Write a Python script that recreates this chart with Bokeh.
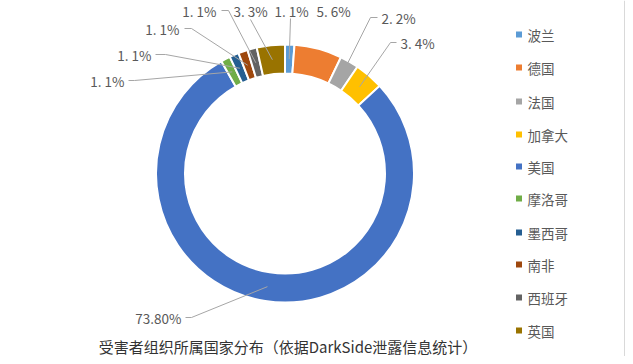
import math
from bokeh.plotting import figure
from bokeh.models import ColumnDataSource, Range1d, Span
from bokeh.core.properties import value
from bokeh.embed import file_html
from bokeh.resources import INLINE

# ---- data ----
countries = ["波兰", "德国", "法国", "加拿大", "美国", "摩洛哥", "墨西哥", "南非", "西班牙", "英国"]
shares = [1.1, 5.6, 2.2, 3.4, 73.8, 1.1, 1.1, 1.1, 1.1, 3.3]
share_labels = ["1. 1%", "5. 6%", "2. 2%", "3. 4%", "73.80%", "1. 1%", "1. 1%", "1. 1%", "1. 1%", "3. 3%"]
colors = ["#5B9BD5", "#ED7D31", "#A5A5A5", "#FFC000", "#4472C4",
          "#70AD47", "#255E91", "#9E480E", "#636363", "#997300"]
title_text = "受害者组织所属国家分布（依据DarkSide泄露信息统计）"

# ---- layout (picture pixel coordinates) ----
W, H = 625, 356
def Y(y):
    return H - y

cx, cy = 284.5, Y(173)
r_out, r_in = 129, 100
r_mid = (r_out + r_in) / 2

# label text anchor: (x, y, align), leader start, leader elbow
lab_x = [291, 333, 381, 400, 181, 124, 151, 179, 216, 250]
lab_y = [10, 10, 17, 42, 317, 80, 54, 28, 10, 10]
lab_align = ["center", "center", "left", "left", "right", "right", "right", "right", "right", "center"]
lead_start = [(290, 18), None, (377, 17), (396, 42), (185, 317), (128, 80), (155, 54), (184, 28), (221, 10), (250, 19)]
lead_elbow = [None, None, (370, 17), (390, 42), (191, 317), (134, 80), (165, 54), (191, 28), (228, 10), None]

total = sum(shares)
starts, ends, mids = [], [], []
cum = 0.0
for v in shares:
    a0 = math.pi / 2 - 2 * math.pi * cum / total
    cum += v
    a1 = math.pi / 2 - 2 * math.pi * cum / total
    starts.append(a0)
    ends.append(a1)
    mids.append((a0 + a1) / 2)

p = figure(width=W, height=H, output_backend="svg", toolbar_location=None,
           x_range=Range1d(0, W), y_range=Range1d(0, H),
           x_axis_location=None, y_axis_location=None, min_border=0,
           outline_line_color=None, background_fill_color="white")
p.grid.visible = False

src = ColumnDataSource(dict(start=starts, end=ends, color=colors, name=countries))
p.annular_wedge(x=cx, y=cy, inner_radius=r_in, outer_radius=r_out,
                start_angle="start", end_angle="end", direction="clock",
                fill_color="color", line_color="white", line_width=2, source=src)

# leader lines
xs, ys = [], []
for i in range(len(shares)):
    if lead_start[i] is None:
        continue
    ex = cx + r_mid * math.cos(mids[i])
    ey = cy + r_mid * math.sin(mids[i])
    px = [lead_start[i][0]]
    py = [Y(lead_start[i][1])]
    if lead_elbow[i] is not None:
        px.append(lead_elbow[i][0])
        py.append(Y(lead_elbow[i][1]))
    px.append(ex)
    py.append(ey)
    xs.append(px)
    ys.append(py)
p.multi_line(xs=xs, ys=ys, line_color="#A6A6A6", line_width=1)

# data labels
for al in ["left", "right", "center"]:
    idx = [i for i in range(len(shares)) if lab_align[i] == al]
    p.text(x=[lab_x[i] for i in idx], y=[Y(lab_y[i]) for i in idx],
           text=[share_labels[i] for i in idx],
           text_font=value("Noto Sans CJK SC"), text_font_size="13.5px",
           text_color="#595959", text_align=al, text_baseline="middle")

# legend
leg_y = [34, 67, 101, 134, 166, 198, 232, 264, 297, 330]
p.scatter(x=[518.5] * len(countries), y=[Y(v) for v in leg_y], marker="square",
          size=6, fill_color=colors, line_color=None)
p.text(x=[527] * len(countries), y=[Y(v) for v in leg_y], text=countries,
       text_font=value("Noto Sans CJK SC"), text_font_size="13.5px",
       text_color="#595959", text_align="left", text_baseline="middle")

# title
p.text(x=[287.5], y=[Y(346)], text=[title_text],
       text_font=value("Noto Sans CJK SC"), text_font_size="15px",
       text_color="#333333", text_align="center", text_baseline="middle")

# right border
p.add_layout(Span(location=624, dimension="height", line_color="#D9D9D9", line_width=1))

open("out.html", "w").write(file_html(p, INLINE))
